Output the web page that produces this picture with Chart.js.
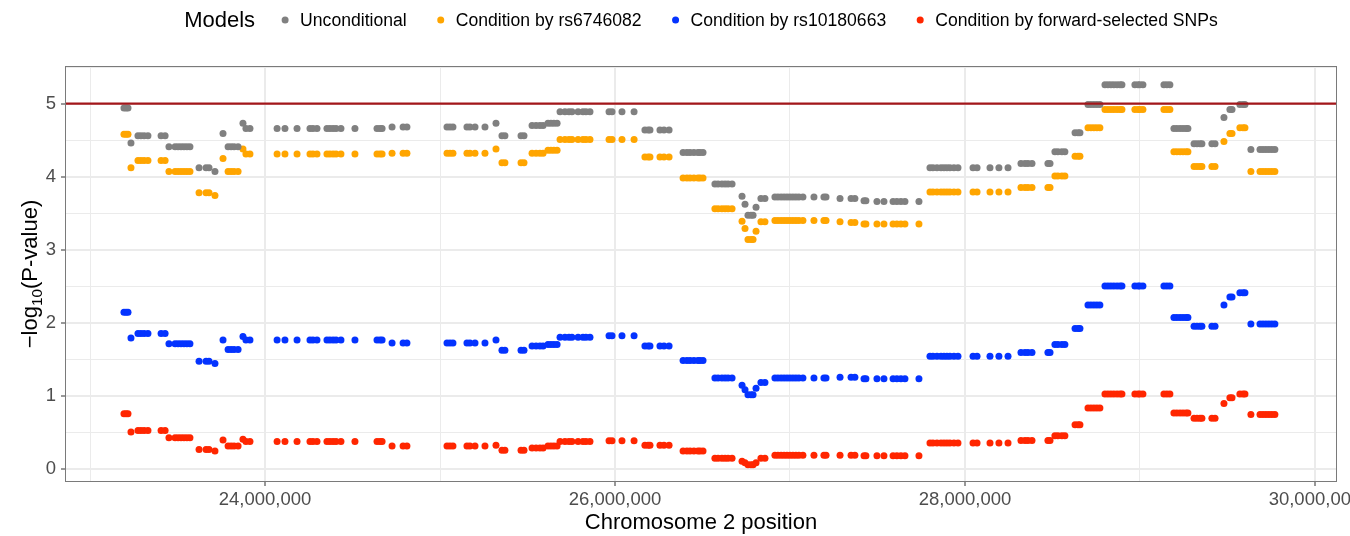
<!DOCTYPE html>
<html>
<head>
<meta charset="utf-8">
<title>Conditional association on chromosome 2</title>
<script src="https://cdn.jsdelivr.net/npm/chart.js@4/dist/chart.umd.min.js"></script>
<style>
  html, body { margin: 0; padding: 0; background: #ffffff; }
  #wrap { width: 1350px; height: 536px; }
</style>
</head>
<body>
<div id="wrap"><canvas id="assoc" width="1350" height="536"></canvas></div>
<script>
// SNP positions on chromosome 2 (bp)
const POSITIONS = [
  23194000, 23206000, 23217000,
  23234000,
  23274000, 23291000, 23309000, 23331000,
  23406000, 23429000,
  23451000, 23486000, 23503000, 23520000, 23537000, 23554000, 23571000,
  23623000, 23663000, 23680000,
  23714000,
  23760000,
  23789000, 23806000, 23823000, 23846000,
  23874000,
  23891000, 23914000, 24069000, 24114000, 24183000, 24257000, 24274000, 24297000, 24354000, 24371000, 24389000, 24406000, 24434000, 24514000, 24640000, 24657000, 24669000,
  24726000, 24789000, 24811000, 25040000, 25057000, 25074000, 25154000, 25171000, 25200000, 25257000,
  25320000,
  25354000, 25371000, 25463000, 25480000,
  25526000, 25549000, 25571000, 25589000,
  25617000, 25634000, 25651000, 25669000,
  25686000, 25714000, 25737000, 25754000, 25789000, 25817000, 25834000, 25857000,
  25966000, 25983000, 26040000, 26109000,
  26171000, 26189000, 26200000, 26257000, 26280000, 26309000,
  26389000, 26411000, 26429000, 26451000, 26474000, 26486000, 26503000,
  26571000, 26589000, 26611000, 26629000, 26646000, 26669000,
  26726000, 26743000, 26760000, 26777000, 26789000, 26806000, 26834000, 26857000,
  26914000, 26931000, 26949000, 26966000, 26983000, 27000000, 27017000, 27034000, 27051000, 27074000, 27137000, 27194000, 27206000,
  27286000, 27349000, 27371000,
  27423000, 27434000, 27497000, 27537000, 27589000, 27611000, 27634000, 27657000, 27737000,
  27800000, 27817000, 27840000, 27863000, 27880000, 27897000, 27914000, 27937000, 27960000, 28046000, 28069000, 28143000, 28194000, 28246000,
  28320000, 28343000, 28360000, 28383000, 28474000, 28486000,
  28514000, 28531000, 28554000, 28571000,
  28629000, 28646000, 28657000,
  28703000, 28720000, 28737000, 28754000, 28771000,
  28800000, 28817000, 28834000, 28851000, 28869000, 28886000, 28897000, 28971000, 28989000, 29000000, 29017000, 29137000, 29154000, 29171000,
  29194000, 29211000, 29229000, 29246000, 29263000, 29274000,
  29309000, 29326000, 29343000, 29354000, 29411000, 29429000,
  29480000,
  29514000, 29526000,
  29571000, 29589000, 29600000,
  29634000, 29686000, 29703000, 29720000, 29737000, 29754000, 29771000
];

// -log10(P) without conditioning
const UNCONDITIONAL = [
  4.94, 4.94, 4.94,
  4.46,
  4.56, 4.56, 4.56, 4.56,
  4.56, 4.56,
  4.41, 4.41, 4.41, 4.41, 4.41, 4.41, 4.41,
  4.12, 4.12, 4.12,
  4.07,
  4.59,
  4.41, 4.41, 4.41, 4.41,
  4.73,
  4.66, 4.66, 4.66, 4.66, 4.66, 4.66, 4.66, 4.66, 4.66, 4.66, 4.66, 4.66, 4.66, 4.66, 4.66, 4.66, 4.66,
  4.68, 4.68, 4.68, 4.68, 4.68, 4.68, 4.68, 4.68, 4.68, 4.68,
  4.73,
  4.56, 4.56, 4.56, 4.56,
  4.70, 4.70, 4.70, 4.70,
  4.73, 4.73, 4.73, 4.73,
  4.89, 4.89, 4.89, 4.89, 4.89, 4.89, 4.89, 4.89,
  4.89, 4.89, 4.89, 4.89,
  4.64, 4.64, 4.64, 4.64, 4.64, 4.64,
  4.33, 4.33, 4.33, 4.33, 4.33, 4.33, 4.33,
  3.90, 3.90, 3.90, 3.90, 3.90, 3.90,
  3.73, 3.62, 3.47, 3.47, 3.47, 3.58, 3.70, 3.70,
  3.72, 3.72, 3.72, 3.72, 3.72, 3.72, 3.72, 3.72, 3.72, 3.72, 3.72, 3.72, 3.72,
  3.70, 3.70, 3.70,
  3.67, 3.67, 3.66, 3.66, 3.66, 3.66, 3.66, 3.66, 3.66,
  4.12, 4.12, 4.12, 4.12, 4.12, 4.12, 4.12, 4.12, 4.12, 4.12, 4.12, 4.12, 4.12, 4.12,
  4.18, 4.18, 4.18, 4.18, 4.18, 4.18,
  4.34, 4.34, 4.34, 4.34,
  4.60, 4.60, 4.60,
  4.99, 4.99, 4.99, 4.99, 4.99,
  5.26, 5.26, 5.26, 5.26, 5.26, 5.26, 5.26, 5.26, 5.26, 5.26, 5.26, 5.26, 5.26, 5.26,
  4.66, 4.66, 4.66, 4.66, 4.66, 4.66,
  4.45, 4.45, 4.45, 4.45, 4.45, 4.45,
  4.81,
  4.92, 4.92,
  4.99, 4.99, 4.99,
  4.37, 4.37, 4.37, 4.37, 4.37, 4.37, 4.37
];

// -log10(P) conditioned on rs6746082
const BY_RS6746082 = [
  4.58, 4.58, 4.58,
  4.12,
  4.22, 4.22, 4.22, 4.22,
  4.22, 4.22,
  4.07, 4.07, 4.07, 4.07, 4.07, 4.07, 4.07,
  3.78, 3.78, 3.78,
  3.74,
  4.25,
  4.07, 4.07, 4.07, 4.07,
  4.38,
  4.31, 4.31, 4.31, 4.31, 4.31, 4.31, 4.31, 4.31, 4.31, 4.31, 4.31, 4.31, 4.31, 4.31, 4.31, 4.31, 4.31,
  4.32, 4.32, 4.32, 4.32, 4.32, 4.32, 4.32, 4.32, 4.32, 4.32,
  4.38,
  4.19, 4.19, 4.19, 4.19,
  4.32, 4.32, 4.32, 4.32,
  4.36, 4.36, 4.36, 4.36,
  4.51, 4.51, 4.51, 4.51, 4.51, 4.51, 4.51, 4.51,
  4.51, 4.51, 4.51, 4.51,
  4.27, 4.27, 4.27, 4.27, 4.27, 4.27,
  3.98, 3.98, 3.98, 3.98, 3.98, 3.98, 3.98,
  3.56, 3.56, 3.56, 3.56, 3.56, 3.56,
  3.39, 3.29, 3.14, 3.14, 3.14, 3.25, 3.38, 3.38,
  3.40, 3.40, 3.40, 3.40, 3.40, 3.40, 3.40, 3.40, 3.40, 3.40, 3.40, 3.40, 3.40,
  3.38, 3.37, 3.37,
  3.35, 3.35, 3.35, 3.35, 3.35, 3.35, 3.35, 3.35, 3.35,
  3.79, 3.79, 3.79, 3.79, 3.79, 3.79, 3.79, 3.79, 3.79, 3.79, 3.79, 3.79, 3.79, 3.79,
  3.85, 3.85, 3.85, 3.85, 3.85, 3.85,
  4.01, 4.01, 4.01, 4.01,
  4.28, 4.28, 4.28,
  4.67, 4.67, 4.67, 4.67, 4.67,
  4.92, 4.92, 4.92, 4.92, 4.92, 4.92, 4.92, 4.92, 4.92, 4.92, 4.92, 4.92, 4.92, 4.92,
  4.34, 4.34, 4.34, 4.34, 4.34, 4.34,
  4.14, 4.14, 4.14, 4.14, 4.14, 4.14,
  4.48,
  4.59, 4.59,
  4.67, 4.67, 4.67,
  4.07, 4.07, 4.07, 4.07, 4.07, 4.07, 4.07
];

// -log10(P) conditioned on rs10180663
const BY_RS10180663 = [
  2.14, 2.14, 2.14,
  1.79,
  1.85, 1.85, 1.85, 1.85,
  1.85, 1.85,
  1.71, 1.71, 1.71, 1.71, 1.71, 1.71, 1.71,
  1.47, 1.47, 1.47,
  1.44,
  1.76,
  1.63, 1.63, 1.63, 1.63,
  1.81,
  1.76, 1.76, 1.76, 1.76, 1.76, 1.76, 1.76, 1.76, 1.76, 1.76, 1.76, 1.76, 1.76, 1.76, 1.76, 1.76, 1.76,
  1.72, 1.72, 1.72, 1.72, 1.72, 1.72, 1.72, 1.72, 1.72, 1.72,
  1.76,
  1.62, 1.62, 1.62, 1.62,
  1.68, 1.68, 1.68, 1.68,
  1.70, 1.70, 1.70, 1.70,
  1.80, 1.80, 1.80, 1.80, 1.80, 1.80, 1.80, 1.80,
  1.82, 1.82, 1.82, 1.82,
  1.68, 1.68, 1.68, 1.68, 1.68, 1.68,
  1.48, 1.48, 1.48, 1.48, 1.48, 1.48, 1.48,
  1.24, 1.24, 1.24, 1.24, 1.24, 1.24,
  1.14, 1.08, 1.01, 1.01, 1.01, 1.10, 1.18, 1.18,
  1.24, 1.24, 1.24, 1.24, 1.24, 1.24, 1.24, 1.24, 1.24, 1.24, 1.24, 1.24, 1.24,
  1.25, 1.25, 1.25,
  1.23, 1.23, 1.23, 1.23, 1.23, 1.23, 1.23, 1.23, 1.23,
  1.54, 1.54, 1.54, 1.54, 1.54, 1.54, 1.54, 1.54, 1.54, 1.54, 1.54, 1.54, 1.54, 1.54,
  1.59, 1.59, 1.59, 1.59, 1.59, 1.59,
  1.70, 1.70, 1.70, 1.70,
  1.92, 1.92, 1.92,
  2.24, 2.24, 2.24, 2.24, 2.24,
  2.50, 2.50, 2.50, 2.50, 2.50, 2.50, 2.50, 2.50, 2.50, 2.50, 2.50, 2.50, 2.50, 2.50,
  2.07, 2.07, 2.07, 2.07, 2.07, 2.07,
  1.95, 1.95, 1.95, 1.95, 1.95, 1.95,
  2.24,
  2.35, 2.35,
  2.41, 2.41, 2.41,
  1.98, 1.98, 1.98, 1.98, 1.98, 1.98, 1.98
];

// -log10(P) conditioned on the forward-selected SNP set
const BY_FORWARD_SNPS = [
  0.75, 0.75, 0.75,
  0.50,
  0.52, 0.52, 0.52, 0.52,
  0.52, 0.52,
  0.42, 0.42, 0.42, 0.42, 0.42, 0.42, 0.42,
  0.26, 0.26, 0.26,
  0.24,
  0.39,
  0.31, 0.31, 0.31, 0.31,
  0.40,
  0.37, 0.37, 0.37, 0.37, 0.37, 0.37, 0.37, 0.37, 0.37, 0.37, 0.37, 0.37, 0.37, 0.37, 0.37, 0.37, 0.37,
  0.31, 0.31, 0.31, 0.31, 0.31, 0.31, 0.31, 0.31, 0.31, 0.31,
  0.32,
  0.25, 0.25, 0.25, 0.25,
  0.28, 0.28, 0.28, 0.28,
  0.31, 0.31, 0.31, 0.31,
  0.37, 0.37, 0.37, 0.37, 0.37, 0.37, 0.37, 0.37,
  0.38, 0.38, 0.38, 0.38,
  0.32, 0.32, 0.32, 0.32, 0.32, 0.32,
  0.24, 0.24, 0.24, 0.24, 0.24, 0.24, 0.24,
  0.14, 0.14, 0.14, 0.14, 0.14, 0.14,
  0.10, 0.08, 0.05, 0.05, 0.05, 0.08, 0.14, 0.14,
  0.18, 0.18, 0.18, 0.18, 0.18, 0.18, 0.18, 0.18, 0.18, 0.18, 0.18, 0.18, 0.18,
  0.18, 0.18, 0.18,
  0.175, 0.175, 0.175, 0.175, 0.175, 0.175, 0.175, 0.175, 0.175,
  0.35, 0.35, 0.35, 0.35, 0.35, 0.35, 0.35, 0.35, 0.35, 0.35, 0.35, 0.35, 0.35, 0.35,
  0.385, 0.385, 0.385, 0.385, 0.385, 0.385,
  0.45, 0.45, 0.45, 0.45,
  0.60, 0.60, 0.60,
  0.83, 0.83, 0.83, 0.83, 0.83,
  1.02, 1.02, 1.02, 1.02, 1.02, 1.02, 1.02, 1.02, 1.02, 1.02, 1.02, 1.02, 1.02, 1.02,
  0.76, 0.76, 0.76, 0.76, 0.76, 0.76,
  0.69, 0.69, 0.69, 0.69, 0.69, 0.69,
  0.89,
  0.97, 0.97,
  1.02, 1.02, 1.02,
  0.74, 0.74, 0.74, 0.74, 0.74, 0.74, 0.74
];

const MODEL_LABELS = [
  'Unconditional',
  'Condition by rs6746082',
  'Condition by rs10180663',
  'Condition by forward-selected SNPs'
];
const MODEL_COLORS = ['#808080', '#FFA500', '#0433FF', '#FF2600'];

// axis breaks: every 1 Mb / 0.5 units, labels on the major ones
const X_BREAKS = [23000000, 24000000, 25000000, 26000000, 27000000, 28000000, 29000000, 30000000];
const X_LABELED = [24000000, 26000000, 28000000, 30000000];
const Y_BREAKS = [0, 0.5, 1, 1.5, 2, 2.5, 3, 3.5, 4, 4.5, 5, 5.5];
const Y_LABELED = [0, 1, 2, 3, 4, 5];

// genome-wide suggestive threshold, -log10(P)
const THRESHOLD = 5;

const FONT = "'Liberation Sans', Arial, Helvetica, sans-serif";
const GRID = '#EBEBEB';
const TICK_TEXT = '#4D4D4D';
const POINT_R = 3.5;

const seriesValues = [UNCONDITIONAL, BY_RS6746082, BY_RS10180663, BY_FORWARD_SNPS];

const datasets = seriesValues.map((vals, k) => ({
  label: MODEL_LABELS[k],
  data: POSITIONS.map((x, i) => ({ x: x, y: vals[i] })),
  backgroundColor: MODEL_COLORS[k],
  borderColor: MODEL_COLORS[k],
  pointRadius: POINT_R,
  pointBorderWidth: 0,
  pointHoverRadius: POINT_R,
  showLine: false
}));

const isMajorX = v => X_LABELED.includes(v);
const isMajorY = v => Y_LABELED.includes(v);

// panel border, threshold line, legend row and y-axis title
const panelDecor = {
  id: 'panelDecor',
  afterDatasetsDraw(chart) {
    const { ctx, chartArea: a, scales } = chart;
    const y = scales.y.getPixelForValue(THRESHOLD);
    ctx.save();
    ctx.strokeStyle = '#A3161A';
    ctx.lineWidth = 2.4;
    ctx.beginPath();
    ctx.moveTo(a.left, y);
    ctx.lineTo(a.right, y);
    ctx.stroke();
    ctx.restore();
  },
  afterDraw(chart) {
    const { ctx, chartArea: a } = chart;
    ctx.save();

    // panel border
    ctx.strokeStyle = '#7A7A7A';
    ctx.lineWidth = 1;
    ctx.strokeRect(Math.round(a.left) + 0.5, Math.round(a.top) + 0.5,
                   Math.round(a.right - a.left) - 1, Math.round(a.bottom - a.top) - 1);

    // legend row: title followed by the four models
    const titleFont = '22px ' + FONT;
    const itemFont = '17.6px ' + FONT;
    ctx.font = titleFont;
    const titleW = ctx.measureText('Models').width;
    ctx.font = itemFont;
    const itemW = MODEL_LABELS.map(t => ctx.measureText(t).width);
    const gapTitle = 30, dotToText = 15, gapItem = 34;
    let total = titleW + gapTitle;
    itemW.forEach((w, i) => { total += dotToText + w + (i < itemW.length - 1 ? gapItem : 0); });
    const cx = (a.left + a.right) / 2;
    let x = cx - total / 2;
    const ly = 20;
    ctx.textBaseline = 'middle';
    ctx.textAlign = 'left';
    ctx.fillStyle = '#000000';
    ctx.font = titleFont;
    ctx.fillText('Models', x, ly + 1);
    x += titleW + gapTitle;
    ctx.font = itemFont;
    MODEL_LABELS.forEach((t, i) => {
      ctx.fillStyle = MODEL_COLORS[i];
      ctx.beginPath();
      ctx.arc(x, ly, POINT_R, 0, Math.PI * 2);
      ctx.fill();
      ctx.fillStyle = '#000000';
      ctx.fillText(t, x + dotToText, ly + 1);
      x += dotToText + itemW[i] + gapItem;
    });

    // y-axis title with subscripted base
    const midY = (a.top + a.bottom) / 2;
    ctx.translate(29, midY);
    ctx.rotate(-Math.PI / 2);
    ctx.textBaseline = 'alphabetic';
    const mainFont = '22px ' + FONT;
    const subFont = '15.4px ' + FONT;
    ctx.font = mainFont;
    const w1 = ctx.measureText('\u2212log').width;
    const w3 = ctx.measureText('(P-value)').width;
    ctx.font = subFont;
    const w2 = ctx.measureText('10').width;
    let tx = -(w1 + w2 + w3) / 2;
    ctx.fillStyle = '#000000';
    ctx.font = mainFont;
    ctx.fillText('\u2212log', tx, 8);
    tx += w1;
    ctx.font = subFont;
    ctx.fillText('10', tx, 13);
    tx += w2;
    ctx.font = mainFont;
    ctx.fillText('(P-value)', tx, 8);

    ctx.restore();
  }
};

new Chart(document.getElementById('assoc'), {
  type: 'scatter',
  data: { datasets: datasets },
  plugins: [panelDecor],
  options: {
    responsive: false,
    animation: false,
    devicePixelRatio: 1,
    layout: { padding: { top: 66, right: 13, left: 0, bottom: 0 } },
    plugins: {
      legend: { display: false },
      tooltip: { enabled: false }
    },
    events: [],
    scales: {
      x: {
        type: 'linear',
        min: 22857000,
        max: 30126000,
        afterBuildTicks: s => { s.ticks = X_BREAKS.map(v => ({ value: v })); },
        afterFit: s => { s.height = 54; s.paddingLeft = 0; s.paddingRight = 0; },
        border: { display: false },
        grid: {
          color: GRID,
          lineWidth: c => (c.tick && isMajorX(c.tick.value)) ? 2 : 1,
          tickColor: c => (c.tick && isMajorX(c.tick.value)) ? '#333333' : 'rgba(0,0,0,0)',
          tickLength: 4,
          tickWidth: 1
        },
        ticks: {
          autoSkip: false,
          maxRotation: 0,
          minRotation: 0,
          padding: 3,
          color: TICK_TEXT,
          font: { family: FONT, size: 18.5 },
          callback: v => isMajorX(v) ? v.toLocaleString('en-US') : ''
        },
        title: {
          display: true,
          text: 'Chromosome 2 position',
          color: '#000000',
          font: { family: FONT, size: 22 },
          padding: { top: 0, bottom: 0 }
        }
      },
      y: {
        type: 'linear',
        min: -0.185,
        max: 5.516,
        afterBuildTicks: s => { s.ticks = Y_BREAKS.map(v => ({ value: v })); },
        afterFit: s => { s.width = 65; s.paddingTop = 0; s.paddingBottom = 0; },
        border: { display: false },
        grid: {
          color: GRID,
          lineWidth: c => (c.tick && isMajorY(c.tick.value)) ? 2 : 1,
          tickColor: c => (c.tick && isMajorY(c.tick.value)) ? '#333333' : 'rgba(0,0,0,0)',
          tickLength: 4,
          tickWidth: 1
        },
        ticks: {
          autoSkip: false,
          padding: 5,
          color: TICK_TEXT,
          font: { family: FONT, size: 18.5 },
          callback: v => isMajorY(v) ? String(v) : ''
        }
      }
    }
  }
});
</script>
</body>
</html>
